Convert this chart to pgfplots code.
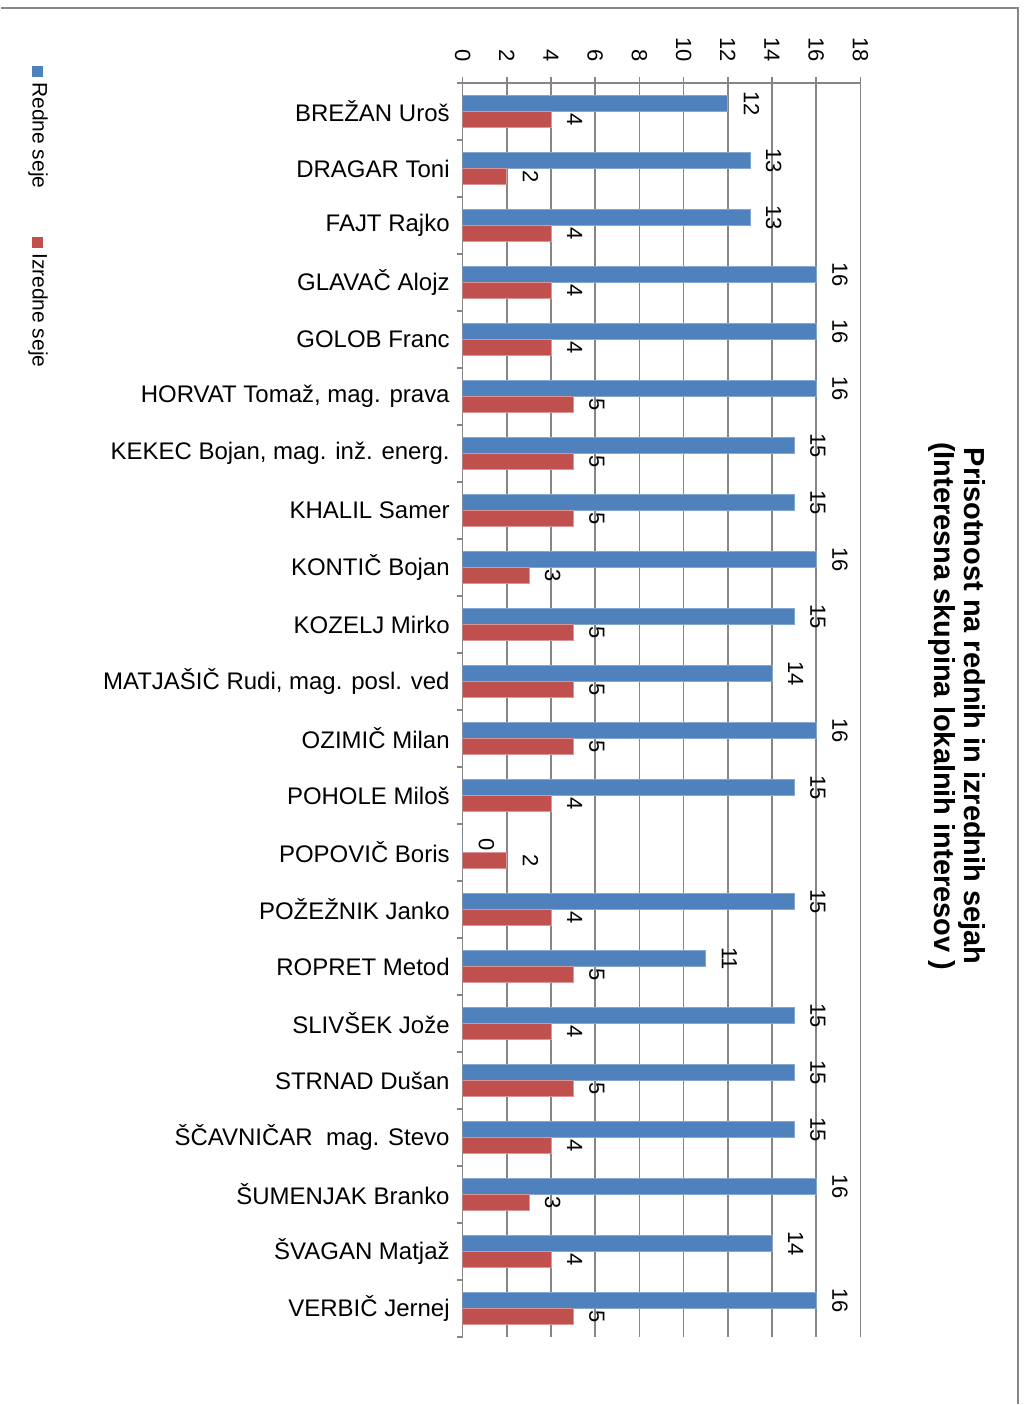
\documentclass[border=0pt]{standalone}
\usepackage{fontspec}
\setmainfont{Liberation Sans}
\usepackage{pgfplots}
\pgfplotsset{compat=1.18}
\definecolor{sblue}{HTML}{4F81BD}
\definecolor{sred}{HTML}{C0504D}
\definecolor{gridc}{HTML}{868686}
\begin{document}
\begin{tikzpicture}
\path (0,0) rectangle (512.5pt,702.5pt);
\draw[gridc, line width=1pt] (0,698.5pt) -- (509pt,698.5pt) -- (509pt,0);
\begin{axis}[
  at={(231pt,33.5pt)}, anchor=south west,
  scale only axis, width=199pt, height=627.5pt,
  xbar, bar width=8pt,
  xmin=0, xmax=18, xtick={0,2,...,18},
  ymin=-0.5, ymax=21.5, y dir=reverse,
  ytick={-0.5,0.5,...,21.5},
  y tick label as interval,
  yticklabels={BREŽAN Uroš, DRAGAR Toni\hspace{10pt}, FAJT Rajko, GLAVAČ Alojz, GOLOB Franc,
    {HORVAT Tomaž, mag. prava}, {KEKEC Bojan, mag. inž. energ.}, KHALIL Samer, KONTIČ Bojan,
    KOZELJ Mirko, {MATJAŠIČ Rudi, mag. posl. ved}, OZIMIČ Milan\hspace{3.5pt}, POHOLE Miloš,
    POPOVIČ Boris, POŽEŽNIK Janko, ROPRET Metod, SLIVŠEK Jože\hspace{6.5pt}, STRNAD Dušan,
    ŠČAVNIČAR\ \ mag. Stevo, ŠUMENJAK Branko, ŠVAGAN Matjaž, VERBIČ Jernej},
  axis x line*=top, axis y line*=left,
  axis line style={gridc, line width=0.75pt, -},
  tick style={gridc, line width=0.75pt},
  tick align=outside, major tick length=3pt,
  xmajorgrids, grid style={gridc, line width=0.75pt},
  xticklabel style={yshift=4pt, rotate=-90, anchor=east, font=\fontsize{11}{12}\selectfont},
  yticklabel style={font=\fontsize{12}{14}\selectfont},
  /pgf/number format/assume math mode=true,
  nodes near coords, point meta=x,
  every node near coord/.append style={rotate=-90, anchor=south, yshift=4.5pt,
    font=\fontsize{11}{12}\selectfont, text=black},
  title={Prisotnost na rednih in izrednih sejah\\(Interesna skupina lokalnih interesov )},
  every axis title shift/.style={},
  title style={at={(1.244,0.4935)}, anchor=center, rotate=-90, align=center,
    font=\bfseries\fontsize{14.5}{15}\selectfont},
]
\addplot[fill=sblue, draw=sblue!70!white, line width=0.4pt, bar shift=4pt] coordinates {
  (12,0) (13,1) (13,2) (16,3) (16,4) (16,5) (15,6) (15,7) (16,8) (15,9) (14,10)
  (16,11) (15,12) (0,13) (15,14) (11,15) (15,16) (15,17) (15,18) (16,19) (14,20) (16,21)
};
\addplot[fill=sred, draw=sred!60!white, line width=0.4pt, bar shift=-4pt] coordinates {
  (4,0) (2,1) (4,2) (4,3) (4,4) (5,5) (5,6) (5,7) (3,8) (5,9) (5,10)
  (5,11) (4,12) (2,13) (4,14) (5,15) (4,16) (5,17) (4,18) (3,19) (4,20) (5,21)
};
\end{axis}
% legend (rotated like the rest of the chart)
\fill[sblue] (15.75pt,663.75pt) rectangle (21.25pt,669.25pt);
\node[rotate=-90, anchor=west, inner sep=0pt, font=\fontsize{10.5}{12}\selectfont]
  at (18.5pt,661.5pt) {Redne seje};
\fill[sred] (15.75pt,578.25pt) rectangle (21.25pt,583.75pt);
\node[rotate=-90, anchor=west, inner sep=0pt, font=\fontsize{10.5}{12}\selectfont]
  at (18.5pt,576pt) {Izredne seje};
\end{tikzpicture}
\end{document}
